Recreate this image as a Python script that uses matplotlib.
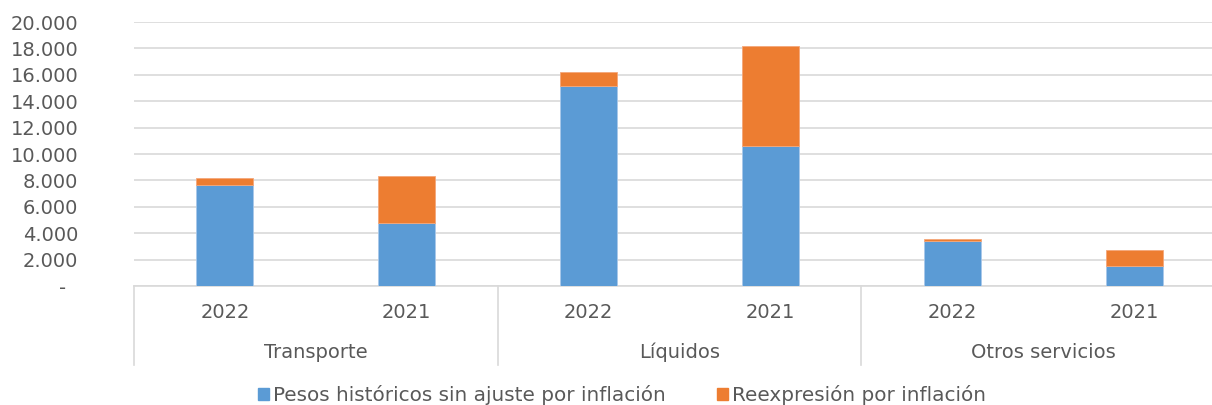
import matplotlib.pyplot as plt
from matplotlib.patches import Patch
from matplotlib.ticker import FuncFormatter

categories = ["Transporte", "Líquidos", "Otros servicios"]
years = ["2022", "2021"]
historicos = [7650, 4750, 15150, 10600, 3410, 1515]
reexpresion = [510, 3560, 1060, 7600, 130, 1215]
series_names = ["Pesos históricos sin ajuste por inflación",
                "Reexpresión por inflación"]

BLUE = "#5B9BD5"
ORANGE = "#ED7D31"
TEXT = "#595959"
GRID = "#D9D9D9"


def fmt_miles(v, pos):
    if v == 0:
        return "-  "
    return f"{v:,.0f}".replace(",", ".")


def main():
    fig = plt.figure(figsize=(12.12, 4.05), dpi=100)
    ax = fig.add_axes([134 / 1212, 1 - 286 / 405, 1091 / 1212, 264 / 405])

    n = len(historicos)
    x = list(range(n))
    ax.bar(x, historicos, width=0.314, color=BLUE, edgecolor="#A9C8EA",
           linewidth=0.6, zorder=3)
    ax.bar(x, reexpresion, width=0.314, bottom=historicos, color=ORANGE,
           edgecolor="#F4A77A", linewidth=0.6, zorder=3)

    ax.set_xlim(-0.5, n - 0.5)
    ax.set_ylim(0, 20000)
    ax.set_yticks(range(0, 20001, 2000))
    ax.yaxis.set_major_formatter(FuncFormatter(fmt_miles))
    ax.tick_params(axis="y", length=0, pad=40, labelsize=14, labelcolor=TEXT)
    ax.set_xticks([])
    ax.grid(axis="y", color=GRID, linewidth=1.2, zorder=0)
    for side in ["top", "right", "left"]:
        ax.spines[side].set_visible(False)
    ax.spines["bottom"].set_color(GRID)
    ax.spines["bottom"].set_linewidth(1.2)

    # two-level category axis
    trans = ax.get_xaxis_transform()
    for i in range(n):
        ax.text(i, -0.102, years[i % 2], transform=trans, ha="center",
                va="center", fontsize=14, color=TEXT)
    for j, cat in enumerate(categories):
        ax.text(2 * j + 0.5, -0.25, cat, transform=trans, ha="center",
                va="center", fontsize=14, color=TEXT)
        ax.plot([2 * j - 0.5, 2 * j - 0.5], [0, -0.299], transform=trans,
                color=GRID, linewidth=1.2, clip_on=False)

    handles = [Patch(color=BLUE), Patch(color=ORANGE)]
    fig.legend(handles, series_names, loc="center",
               bbox_to_anchor=(622 / 1212, 1 - 395 / 405), ncol=2,
               frameon=False, fontsize=14.4, labelcolor=TEXT,
               handlelength=0.55, handleheight=0.55, handletextpad=0.2,
               columnspacing=2.6, borderpad=0, borderaxespad=0)

    fig.savefig("out.png", dpi=100)
    plt.close(fig)


if __name__ == "__main__":
    main()
